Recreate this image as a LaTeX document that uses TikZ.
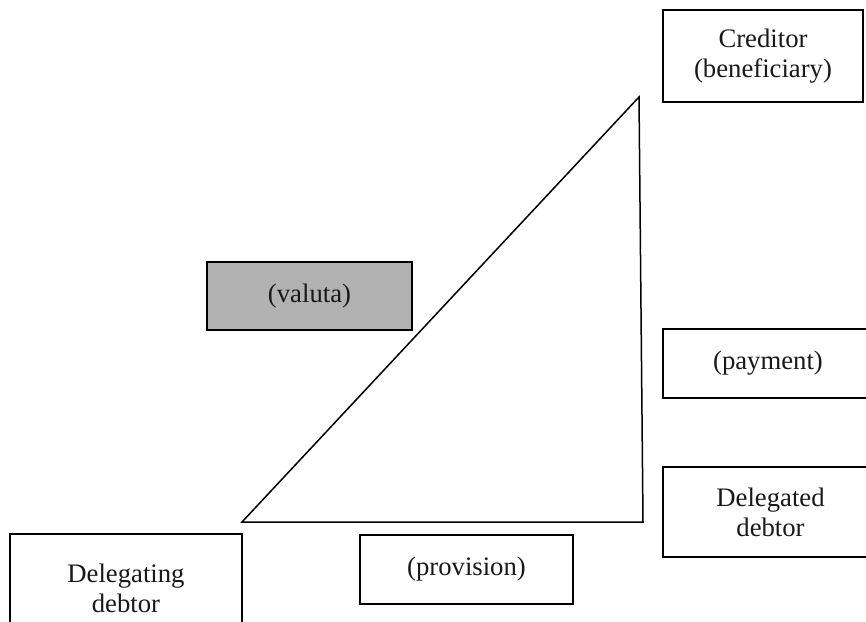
\documentclass[tikz,border=0pt]{standalone}
\usepackage{fontspec}
\setmainfont{Liberation Serif}
\begin{document}
\begin{tikzpicture}[x=1pt,y=-1pt,
  box/.style={draw=black, line width=1.8pt, fill=white, anchor=north west, inner sep=0pt, outer sep=0pt, align=center,
    font=\fontsize{26.7}{30}\selectfont, text=black!90},
  grey/.style={fill=black!30}]
\useasboundingbox (0,0) rectangle (866,621);
\coordinate (apex) at (639,97);
\coordinate (bl) at (242,522);
\coordinate (br) at (643,522);
\draw[line width=1.5pt, line join=miter] (bl) -- (apex) -- (br) -- cycle;
\node[box, minimum width=200pt, minimum height=92pt] (creditor) at (663,10) {Creditor\\(beneficiary)};
\node[box, grey, minimum width=205pt, minimum height=68pt] (valuta) at (207,262) {(valuta)};
\node[box, minimum width=210pt, minimum height=69pt] (payment) at (663,329) {(payment)};
\node[box, minimum width=215pt, minimum height=90pt] (delegated) at (663,467) {Delegated\\debtor};
\node[box, minimum width=232pt, minimum height=108pt] (delegating) at (10,534) {Delegating\\debtor};
\node[box, minimum width=213pt, minimum height=69pt] (provision) at (360,535) {(provision)};
\end{tikzpicture}
\end{document}
